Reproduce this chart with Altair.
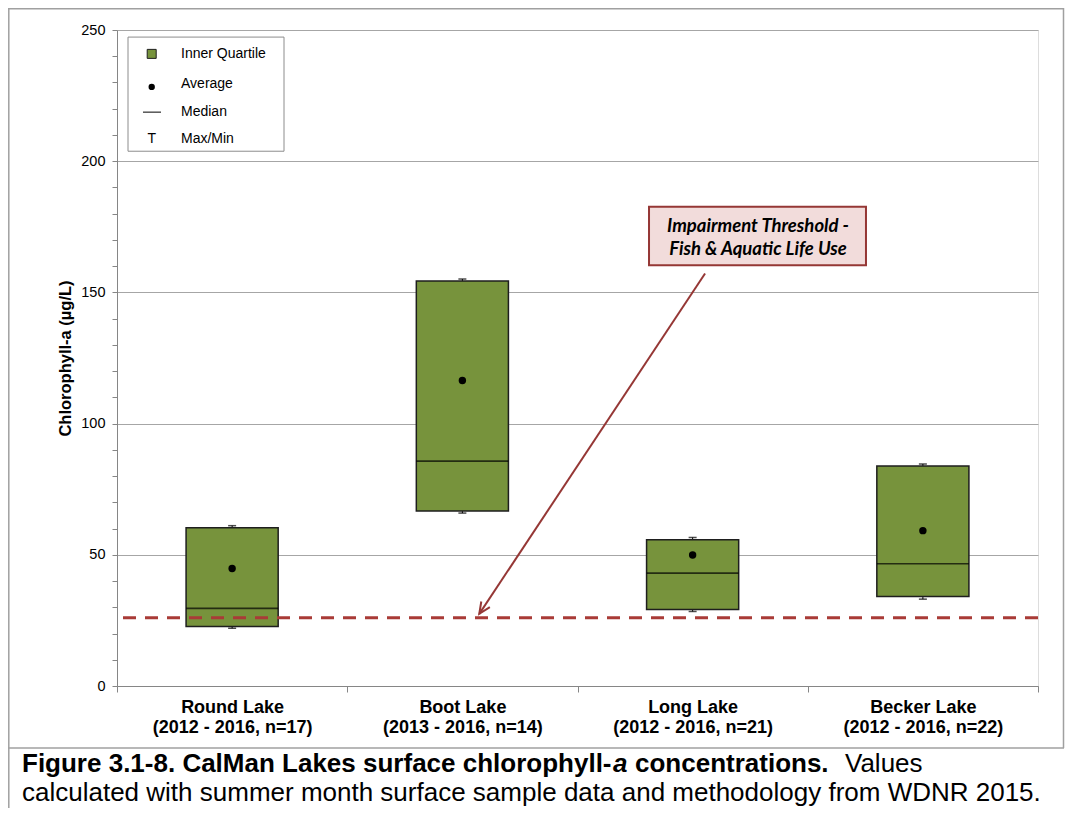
import altair as alt
import pandas as pd

# ---------------- data ----------------
lakes = ["Round Lake|(2012 - 2016, n=17)", "Boot Lake|(2013 - 2016, n=14)",
         "Long Lake|(2012 - 2016, n=21)", "Becker Lake|(2012 - 2016, n=22)"]
q1 = [22.7, 66.7, 29.2, 34.1]
q3 = [60.3, 154.3, 55.7, 83.8]
median = [29.6, 85.7, 43.0, 46.6]
mean = [44.8, 116.4, 49.9, 59.2]
max_v = [61.1, 155.1, 56.6, 84.6]
min_v = [22.0, 65.9, 28.4, 33.1]
threshold = 26.0

legend_labels = ["Inner Quartile", "Average", "Median", "Max/Min"]
annotation_lines = ["Impairment Threshold -", "Fish & Aquatic Life Use"]

df = pd.DataFrame(dict(lake=lakes, q1=q1, q3=q3, median=median, mean=mean,
                       max=max_v, min=min_v))

W, H = 921, 656
FONT = "Liberation Sans"
GREEN = "#77933C"
DARKRED = "#953735"

yscale = alt.Scale(domain=[0, 250], nice=False, zero=True)
yaxis = alt.Axis(
    values=list(range(0, 251, 10)),
    labelExpr="datum.value % 50 == 0 ? datum.label : ''",
    gridOpacity={"condition": {"test": "datum.value % 50 == 0", "value": 1}, "value": 0},
    gridColor="#a6a6a6", gridWidth=1,
    domainColor="#868686", tickColor="#868686", tickSize=5,
    labelFont=FONT, labelFontSize=14.5, labelColor="#000", labelPadding=7,
    titleFont=FONT, titleFontSize=16.5, titleFontWeight="bold", titleColor="#000",
    titlePadding=7,
)
YT = "Chlorophyll-a (µg/L)"


def Y(field):
    return alt.Y(f"{field}:Q", scale=yscale, axis=yaxis, title=YT)


xaxis = alt.Axis(
    title=None, orient="bottom", labelExpr="split(datum.label, '|')", tickBand="extent",
    labelAngle=0, labelFont=FONT, labelFontSize=18, labelFontWeight="bold",
    labelColor="#000", labelLineHeight=20, labelPadding=6, labelBaseline="top",
    domainColor="#868686", tickColor="#868686", tickSize=6, grid=False,
)
X = alt.X("lake:N", sort=lakes, scale=alt.Scale(paddingInner=0, paddingOuter=0), axis=xaxis)


def AX(field):
    return alt.X(f"{field}:Q", scale=alt.Scale(domain=[0, 4], nice=False, zero=False), axis=None)


base = alt.Chart(df)
whisker = base.mark_rule(color="#000", strokeWidth=1).encode(x=X, y=Y("min"), y2="max")
box = base.mark_bar(width={"band": 0.4}, fill=GREEN, stroke="#1e1e1e", strokeWidth=1.5).encode(
    x=X, y=Y("q1"), y2="q3")
med = base.mark_tick(orient="horizontal", size=92, thickness=1.6, color="#000").encode(x=X, y=Y("median"))
capmax = base.mark_tick(orient="horizontal", size=8, thickness=1.5, color="#000").encode(x=X, y=Y("max"))
capmin = base.mark_tick(orient="horizontal", size=8, thickness=1.5, color="#000").encode(x=X, y=Y("min"))
avg = base.mark_circle(size=55, color="#000", opacity=1).encode(x=X, y=Y("mean"))

thr = alt.Chart(pd.DataFrame({"t": [threshold]})).mark_rule(
    color="#A93B37", strokeWidth=3, strokeDash=[13, 9]).encode(y=Y("t"))

# ---- annotation (independent quantitative x: band index 0..4) ----
arrow_df = pd.DataFrame({"x0": [2.554], "y0": [157.2], "x1": [1.5735], "y1": [27.5]})
arrow = alt.Chart(arrow_df).mark_rule(color=DARKRED, strokeWidth=2).encode(
    x=AX("x0"), x2="x1", y=Y("y0"), y2="y1")
head = alt.Chart(arrow_df).mark_point(
    shape="M -0.45 1 L 0 0 L 0.45 1", filled=False, stroke=DARKRED, strokeWidth=2,
    size=520, angle=213.4, opacity=1).encode(x=AX("x1"), y=Y("y1"))

ann_box_df = pd.DataFrame({"x0": [2.3106], "x1": [3.2529], "y0": [160.3], "y1": [182.6]})
ann_box = alt.Chart(ann_box_df).mark_rect(fill="#F2DCDB", stroke=DARKRED, strokeWidth=2).encode(
    x=AX("x0"), x2="x1", y=Y("y0"), y2="y1")
ann_txt_df = pd.DataFrame({"x": [2.784, 2.784], "y": [175.2, 166.6], "t": annotation_lines})
ann_txt = alt.Chart(ann_txt_df).mark_text(
    font="Lato", fontStyle="italic", fontWeight="bold", fontSize=18.5, color="#000",
    align="center", baseline="middle").encode(x=AX("x"), y=Y("y"), text="t:N")

# ---- legend (drawn manually) ----
leg_box_df = pd.DataFrame({"x0": [0.0478], "x1": [0.7253], "y0": [203.8], "y1": [247.3]})
leg_box = alt.Chart(leg_box_df).mark_rect(fill="white", stroke="#8c8c8c", strokeWidth=1).encode(
    x=AX("x0"), x2="x1", y=Y("y0"), y2="y1")
sym_x = 0.1507
leg_sq = alt.Chart(pd.DataFrame({"x": [sym_x], "y": [240.9]})).mark_square(
    size=81, fill=GREEN, stroke="#1e1e1e", strokeWidth=1, opacity=1).encode(x=AX("x"), y=Y("y"))
leg_dot = alt.Chart(pd.DataFrame({"x": [sym_x], "y": [228.3]})).mark_circle(
    size=40, color="#000", opacity=1).encode(x=AX("x"), y=Y("y"))
leg_med = alt.Chart(pd.DataFrame({"x0": [0.1129], "x1": [0.1911], "y": [218.7]})).mark_rule(
    color="#000", strokeWidth=1).encode(x=AX("x0"), x2="x1", y=Y("y"))
leg_T = alt.Chart(pd.DataFrame({"x": [sym_x], "y": [208.3], "t": ["T"]})).mark_text(
    font=FONT, fontSize=14, color="#000", align="center", baseline="middle").encode(
    x=AX("x"), y=Y("y"), text="t:N")
leg_txt = alt.Chart(pd.DataFrame({"x": [0.278] * 4, "y": [240.9, 229.6, 218.7, 208.3],
                                  "t": legend_labels})).mark_text(
    font=FONT, fontSize=14, color="#000", align="left", baseline="middle").encode(
    x=AX("x"), y=Y("y"), text="t:N")

# ---- frame and caption (decorations in pixel space) ----
one = pd.DataFrame({"k": [0]})
FR = "#a0a0a0"


def frame_line(x1, y1, x2, y2):
    return alt.Chart(one).mark_rule(color=FR, strokeWidth=1.5).encode(
        x=alt.value(x1), y=alt.value(y1), x2=alt.value(x2), y2=alt.value(y2))


frame = [
    frame_line(-108.2, -22, -108.2, 780),
    frame_line(946.5, -22, 946.5, 718),
    frame_line(-109, -21.2, 947, -21.2),
    frame_line(-109, 718, 947, 718),
]

CAP = 26


def cap_text(txt, x, y, weight="normal", style="normal"):
    return alt.Chart(one).mark_text(
        text=txt, font=FONT, fontSize=CAP, fontWeight=weight, fontStyle=style, color="#000",
        align="left", baseline="alphabetic").encode(x=alt.value(x), y=alt.value(y))


caption = [
    cap_text("Figure 3.1-8.  CalMan Lakes surface chlorophyll-", -95, 742, "bold"),
    cap_text("a", 496, 742, "bold", "italic"),
    cap_text("concentrations.", 518, 742, "bold"),
    cap_text("Values", 728, 742),
    cap_text("calculated with summer month surface sample data and methodology from WDNR 2015.",
             -95, 771),
]

main = alt.layer(*frame, *caption, whisker, box, med, capmax, capmin, avg, thr)
ann = alt.layer(leg_box, leg_sq, leg_dot, leg_med, leg_T, leg_txt, arrow, head, ann_box, ann_txt)

chart = alt.layer(main, ann).resolve_scale(x="independent").properties(
    width=W, height=H,
    autosize=alt.AutoSizeParams(type="none"),
    padding={"left": 109, "top": 22, "right": 27, "bottom": 122},
).configure_view(stroke=None).configure(background="white")

chart.save("out.html", embed_options={"renderer": "svg", "actions": False})
